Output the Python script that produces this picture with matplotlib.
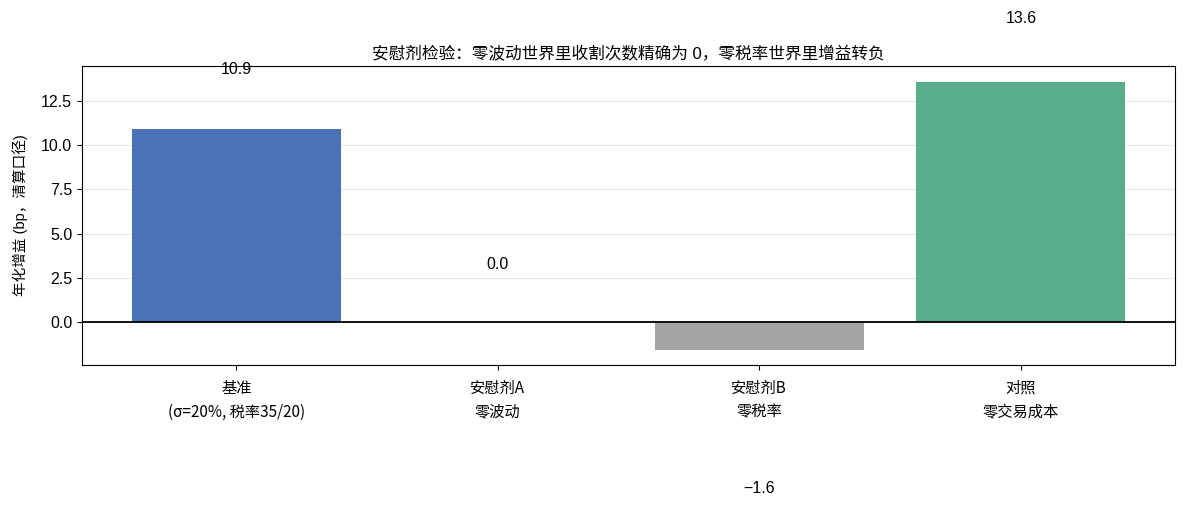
import matplotlib
matplotlib.use("Agg")
import matplotlib.pyplot as plt

plt.rcParams['font.family'] = ['Liberation Sans', 'Noto Sans CJK SC', 'DejaVu Sans']
plt.rcParams['axes.unicode_minus'] = True

# ----------------------
# Data
# ----------------------
categories = ["基准\n(σ=20%, 税率35/20)", "安慰剂A\n零波动", "安慰剂B\n零税率", "对照\n零交易成本"]
gains_bp = [10.9, 0.0, -1.6, 13.6]
bar_colors = ["#4A72B4", "#A5A5A5", "#A5A5A5", "#58AE8A"]
y_ticks = [0.0, 2.5, 5.0, 7.5, 10.0, 12.5]

# label offsets (pixels) as they sit in the original
label_offsets = [60, 58, -138, 63]

fig, ax = plt.subplots(figsize=(11.87, 5.09), dpi=100)
fig.subplots_adjust(left=0.069, right=0.99, top=0.87, bottom=0.283)

x = range(len(categories))
ax.bar(x, gains_bp, width=0.8, color=bar_colors, zorder=2)
ax.axhline(0, color="black", linewidth=1.3, zorder=3)

for i, v in enumerate(gains_bp):
    ax.annotate(f"{v:.1f}".replace("-", "−"), xy=(i, v), xytext=(0, label_offsets[i]),
                textcoords="offset pixels", ha="center", va="center",
                fontsize=11.5, annotation_clip=False)

ax.set_xticks(list(x))
ax.set_xticklabels(categories, fontsize=11, linespacing=1.55,
                   family=['Noto Sans CJK SC', 'DejaVu Sans'])
ax.tick_params(axis="x", pad=7)
ax.set_xlim(-0.59, 3.59)
ax.set_ylim(-2.43, 14.48)
ax.set_yticks(y_ticks)
ax.set_yticklabels([f"{t:.1f}" for t in y_ticks])
ax.tick_params(axis="y", labelsize=11.5)
ax.set_ylabel("年化增益 (bp，清算口径)", fontsize=10.5)
ax.yaxis.set_label_coords(-0.049, 0.5)
ax.set_title("安慰剂检验：零波动世界里收割次数精确为 0，零税率世界里增益转负", fontsize=12, pad=5)
ax.grid(True, axis="y", color="#e6e6e6", linewidth=0.8, zorder=0)
ax.set_axisbelow(True)

fig.savefig("out.png", dpi=100)
